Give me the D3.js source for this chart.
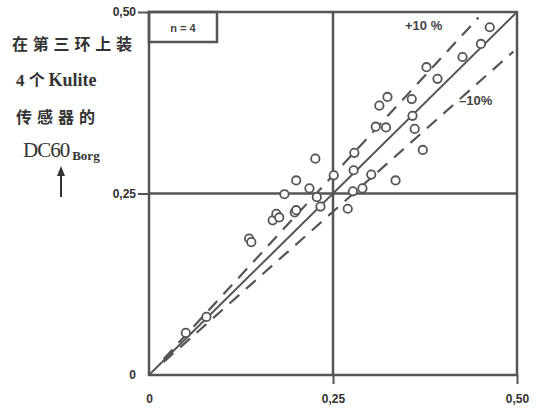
<!DOCTYPE html>
<html>
<head>
<meta charset="utf-8">
<script src="https://cdn.jsdelivr.net/npm/d3@7"></script>
<style>
  body { margin: 0; background: #fff; }
  svg { display: block; }
</style>
</head>
<body>
<div id="chart"></div>
<script>
// measured DC60 (x) vs DC60 with 4 Kulite sensors on ring 3 (y)
var pointsX = [0.050, 0.078, 0.136, 0.139, 0.168, 0.173, 0.177, 0.184, 0.198, 0.200, 0.200,
               0.218, 0.226, 0.228, 0.233, 0.251, 0.270, 0.277, 0.278, 0.279, 0.290, 0.302,
               0.308, 0.313, 0.322, 0.324, 0.335, 0.357, 0.358, 0.361, 0.372, 0.377, 0.392,
               0.426, 0.451, 0.463];
var pointsY = [0.058, 0.080, 0.188, 0.183, 0.213, 0.222, 0.217, 0.249, 0.224, 0.227, 0.268,
               0.257, 0.298, 0.245, 0.232, 0.275, 0.229, 0.253, 0.282, 0.306, 0.257, 0.276,
               0.342, 0.371, 0.341, 0.383, 0.268, 0.380, 0.357, 0.339, 0.310, 0.424, 0.408,
               0.438, 0.456, 0.479];
var xTicks = [0, 0.25, 0.5];
var xTickLabels = ["0", "0,25", "0,50"];
var yTicks = [0, 0.25, 0.5];
var yTickLabels = ["0", "0,25", "0,50"];
var bandFactors = [1.1, 0.9];
var bandLabels = ["+10 %", "\u201310%"];

function init() {
    var W = 546, H = 413;
    var ink = "#555";

    var svg = d3.select("#chart").append("svg")
                .attr("width", W).attr("height", H);

    var x = d3.scaleLinear().domain([0, 0.5]).range([149, 517]);
    var y = d3.scaleLinear().domain([0, 0.5]).range([375, 12]);

    // x axis ticks and labels
    var xAxis = svg.append("g")
        .attr("transform", "translate(0," + y(0) + ")")
        .call(d3.axisBottom(x).tickValues(xTicks).tickSize(9).tickPadding(10)
              .tickFormat(function(d, i) { return xTickLabels[i]; }));
    xAxis.select(".domain").remove();
    xAxis.selectAll("line").attr("stroke", ink).attr("stroke-width", 2)
         .filter(function(d) { return d === 0; }).remove();

    // y axis ticks and labels
    var yAxis = svg.append("g")
        .attr("transform", "translate(" + x(0) + ",0)")
        .call(d3.axisLeft(y).tickValues(yTicks).tickSize(11).tickPadding(2)
              .tickFormat(function(d, i) { return yTickLabels[i]; }));
    yAxis.select(".domain").remove();
    yAxis.selectAll("line").attr("stroke", ink).attr("stroke-width", 2)
         .filter(function(d) { return d === 0; }).remove();

    svg.selectAll(".tick text")
       .attr("fill", "#333")
       .style("font-family", "'Liberation Sans', Arial, sans-serif")
       .style("font-size", "12px")
       .style("font-weight", "bold");

    // frame and the 0.25 cross lines
    svg.append("rect")
       .attr("x", x(0)).attr("y", y(0.5))
       .attr("width", x(0.5) - x(0)).attr("height", y(0) - y(0.5))
       .attr("fill", "none").attr("stroke", ink).attr("stroke-width", 2.5);
    svg.append("line")
       .attr("x1", x(0.25)).attr("x2", x(0.25)).attr("y1", y(0.5)).attr("y2", y(0))
       .attr("stroke", ink).attr("stroke-width", 2.5);
    svg.append("line")
       .attr("x1", x(0)).attr("x2", x(0.5)).attr("y1", y(0.25)).attr("y2", y(0.25))
       .attr("stroke", ink).attr("stroke-width", 2.5);

    // n = 4 box
    svg.append("rect")
       .attr("x", x(0)).attr("y", y(0.5))
       .attr("width", 68).attr("height", 30)
       .attr("fill", "none").attr("stroke", ink).attr("stroke-width", 2.5);
    svg.append("text")
       .attr("x", x(0) + 34).attr("y", y(0.5) + 20)
       .attr("text-anchor", "middle")
       .attr("fill", "#444")
       .style("font-family", "'Liberation Sans', Arial, sans-serif")
       .style("font-size", "11px").style("font-weight", "bold")
       .text("n = 4");

    // 1:1 line
    svg.append("line")
       .attr("x1", x(0)).attr("y1", y(0))
       .attr("x2", x(0.5)).attr("y2", y(0.5))
       .attr("stroke", ink).attr("stroke-width", 2);

    // +-10 % dashed lines
    bandFactors.forEach(function(f) {
        var xEnd = Math.min(0.5, 0.498 / f) - 0.005;
        svg.append("line")
           .attr("x1", x(0.02)).attr("y1", y(0.02 * f))
           .attr("x2", x(xEnd)).attr("y2", y(xEnd * f))
           .attr("stroke", ink).attr("stroke-width", 2.2)
           .attr("stroke-dasharray", "13,9");
    });
    svg.append("text")
       .attr("x", 405).attr("y", 30)
       .attr("fill", "#444")
       .style("font-family", "'Liberation Sans', Arial, sans-serif")
       .style("font-size", "13px").style("font-weight", "bold")
       .text(bandLabels[0]);
    svg.append("text")
       .attr("x", 459).attr("y", 105)
       .attr("fill", "#444")
       .style("font-family", "'Liberation Sans', Arial, sans-serif")
       .style("font-size", "13px").style("font-weight", "bold")
       .text(bandLabels[1]);

    // data points
    svg.append("g").selectAll("circle")
       .data(pointsX)
       .enter().append("circle")
       .attr("cx", function(d) { return x(d); })
       .attr("cy", function(d, i) { return y(pointsY[i]); })
       .attr("r", 4.2)
       .attr("fill", "#fff")
       .attr("stroke", ink).attr("stroke-width", 1.8);

    // y axis title, stacked lines
    var cjk = "'Noto Sans CJK SC', sans-serif";
    var serif = "'Liberation Serif', 'DejaVu Serif', serif";
    svg.append("text")
       .attr("x", 12).attr("y", 50)
       .attr("fill", "#333")
       .style("font-family", cjk).style("font-size", "16px").style("font-weight", "bold")
       .style("letter-spacing", "4.8px")
       .text("在第三环上装");
    var l2 = svg.append("text")
       .attr("x", 16).attr("y", 86)
       .attr("fill", "#333");
    l2.append("tspan").style("font-family", serif).style("font-size", "17px").style("font-weight", "bold").text("4 ");
    l2.append("tspan").style("font-family", cjk).style("font-size", "16px").style("font-weight", "bold").text("个 ");
    l2.append("tspan").style("font-family", serif).style("font-size", "18px").style("font-weight", "bold").text("Kulite");
    svg.append("text")
       .attr("x", 16).attr("y", 123)
       .attr("fill", "#333")
       .style("font-family", cjk).style("font-size", "16px").style("font-weight", "bold")
       .style("letter-spacing", "5px")
       .text("传感器的");
    var l4 = svg.append("text")
       .attr("x", 23).attr("y", 157)
       .attr("fill", "#333")
       .style("font-family", serif);
    l4.append("tspan").style("font-size", "21px").style("letter-spacing", "-1px").text("DC60");
    l4.append("tspan").attr("dx", 3).attr("dy", 3).style("font-size", "13px").style("font-weight", "bold").text("Borg");

    // upward arrow
    svg.append("line")
       .attr("x1", 61).attr("x2", 61).attr("y1", 170).attr("y2", 197)
       .attr("stroke", "#333").attr("stroke-width", 2);
    svg.append("path")
       .attr("d", "M57,176 L61,166 L65,176 Z")
       .attr("fill", "#333");
}

window.onload = init;
</script>
</body>
</html>
